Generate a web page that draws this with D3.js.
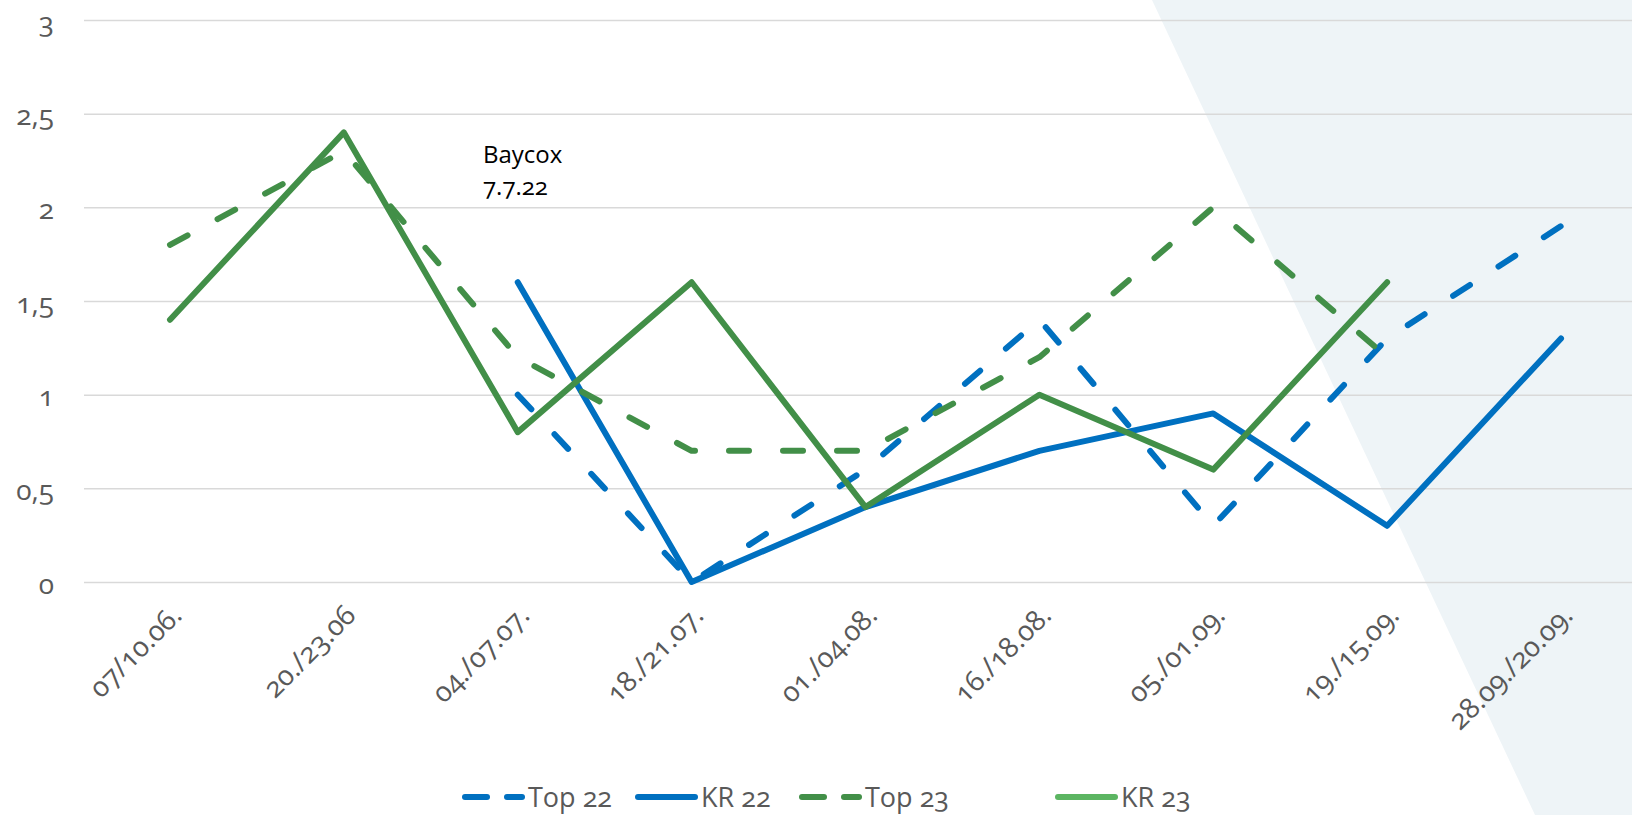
<!DOCTYPE html>
<html>
<head>
<meta charset="utf-8">
<script src="https://cdn.jsdelivr.net/npm/d3@7"></script>
<style>
  body { margin: 0; background: #fff; }
  svg text { font-family: "Open Sans", sans-serif; font-feature-settings: "onum"; }
</style>
</head>
<body>
<svg id="chart" width="1632" height="815"></svg>
<script>
const categories = ["07/10.06.", "20./23.06", "04./07.07.", "18./21.07.", "01./04.08.",
                    "16./18.08.", "05./01.09.", "19./15.09.", "28.09./20.09."];
const top22 = [null, null, 1.0, 0, 0.6, 1.4, 0.3, 1.3, 1.9];
const kr22  = [null, null, 1.6, 0, 0.4, 0.7, 0.9, 0.3, 1.3];
const top23 = [1.8, 2.3, 1.2, 0.7, 0.7, 1.2, 2.0, 1.2, null];
const kr23  = [1.4, 2.4, 0.8, 1.6, 0.4, 1.0, 0.6, 1.6, null];
const yTicks = [0, 0.5, 1, 1.5, 2, 2.5, 3];

const series = [
  {name: "Top 22", values: top22, color: "#0070c0", dashed: true},
  {name: "KR 22",  values: kr22,  color: "#0070c0", dashed: false},
  {name: "Top 23", values: top23, color: "#428f48", dashed: true},
  {name: "KR 23",  values: kr23,  color: "#428f48", legendColor: "#5cb562", dashed: false}
];

const W = 1632, H = 815;
const plotLeft = 84, plotTop = 20, plotBottom = 582;
const svg = d3.select("#chart");

const x = d3.scalePoint().domain(categories).range([170, 1561]);
const y = d3.scaleLinear().domain([0, 3]).range([plotBottom, plotTop]);
const comma = d3.formatLocale({decimal: ",", thousands: ".", grouping: [3], currency: ["", "€"]}).format("~g");

// light background shape on the right
svg.append("path")
  .attr("d", d3.line()([[1152, 0], [W, 0], [W, H], [1535, H]]) + "Z")
  .attr("fill", "#eef4f7");

// gridlines + y labels
const yAxis = svg.append("g")
  .attr("transform", `translate(${plotLeft},0)`)
  .call(d3.axisLeft(y).tickValues(yTicks).tickSize(-(W - plotLeft)).tickPadding(30).tickFormat(comma));
yAxis.select(".domain").remove();
yAxis.selectAll("line").attr("stroke", "#d9d9d9").attr("stroke-width", 1.5);
yAxis.selectAll("text")
  .attr("fill", "#595959").attr("font-size", 28).attr("dy", 11);

// x labels
const xAxis = svg.append("g")
  .attr("transform", `translate(0,${plotBottom})`)
  .call(d3.axisBottom(x).tickSize(0).tickFormat(d => d));
xAxis.select(".domain").remove();
xAxis.selectAll("text")
  .attr("fill", "#595959").attr("font-size", 28)
  .attr("text-anchor", "end")
  .attr("dy", 0).attr("y", 0)
  .attr("transform", "translate(13,35) rotate(-45)");

// lines
const line = d3.line()
  .defined(d => d != null)
  .x((d, i) => x(categories[i]))
  .y(d => y(d));

svg.append("g").selectAll("path")
  .data(series)
  .join("path")
  .attr("d", d => line(d.values))
  .attr("fill", "none")
  .attr("stroke", d => d.color)
  .attr("stroke-width", 6)
  .attr("stroke-linecap", "round")
  .attr("stroke-linejoin", "round")
  .attr("stroke-dasharray", d => d.dashed ? "20,34" : null);

// annotation
const note = svg.append("text").attr("x", 483).attr("y", 163).attr("font-size", 24).attr("fill", "#000");
note.append("tspan").attr("x", 483).text("Baycox");
note.append("tspan").attr("x", 483).attr("dy", 32).text("7.7.22");

// legend
const legendX = [462, 635, 799, 1055];
const ly = 797;
const lg = svg.append("g").selectAll("g")
  .data(series)
  .join("g")
  .attr("transform", (d, i) => `translate(${legendX[i]},${ly})`);
lg.each(function (d) {
  const g = d3.select(this);
  const c = d.legendColor || d.color;
  const segs = d.dashed ? [[3, 25], [45, 60]] : [[3, 60]];
  segs.forEach(s => {
    g.append("line").attr("x1", s[0]).attr("x2", s[1]).attr("y1", 0).attr("y2", 0)
      .attr("stroke", c).attr("stroke-width", 6).attr("stroke-linecap", "round");
  });
  g.append("text").attr("x", 66).attr("y", 10)
    .attr("font-size", 27).attr("fill", "#595959").text(d.name);
});
</script>
</body>
</html>
